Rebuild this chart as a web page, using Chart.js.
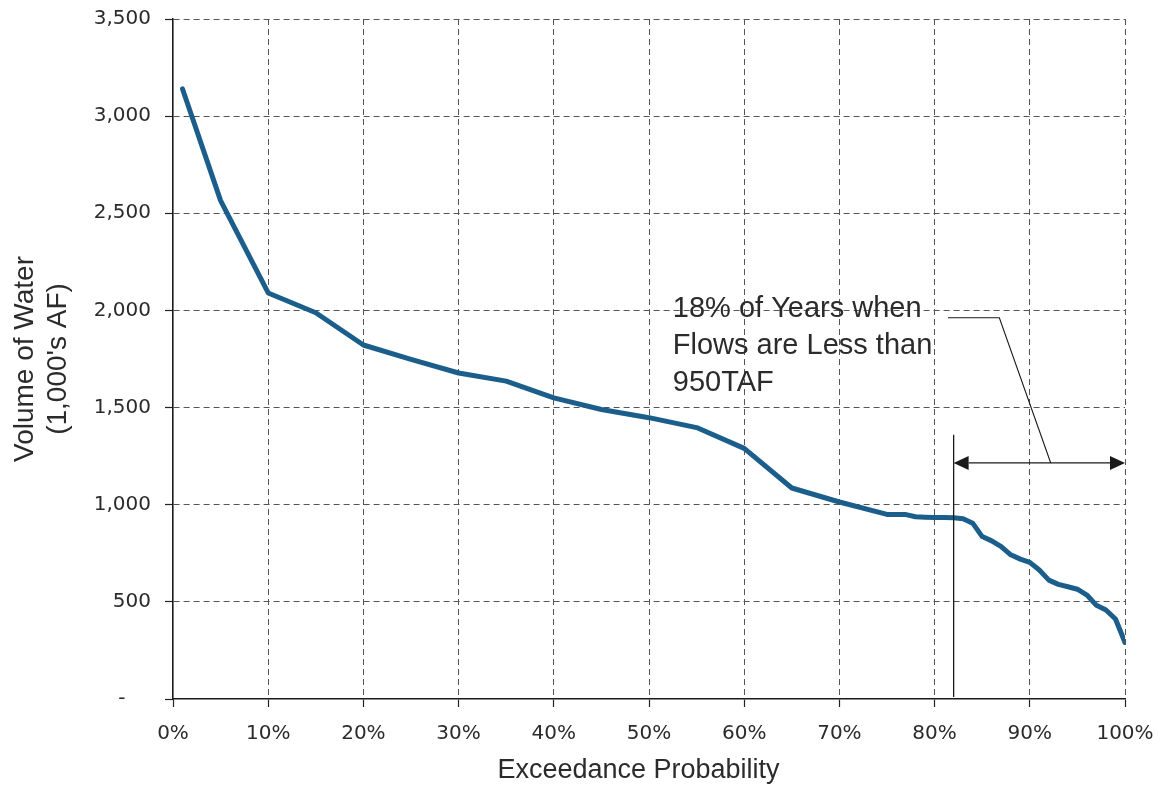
<!DOCTYPE html>
<html>
<head>
<meta charset="utf-8">
<script src="https://cdn.jsdelivr.net/npm/chart.js@4"></script>
<style>
  html, body { margin: 0; padding: 0; background: #fff; }
  #wrap { width: 1159px; height: 787px; position: relative; }
</style>
</head>
<body>
<div id="wrap"><canvas id="c" width="1159" height="787"></canvas></div>
<script>
// Exceedance probability (%) and volume (1,000's AF)
const exceedancePct = [1, 5, 10, 15, 20, 25, 30, 35, 40, 45, 50, 55, 60, 65, 70, 75, 76, 77, 78, 79, 80, 81, 82, 83, 84, 85, 86, 87, 88, 89, 90, 91, 92, 93, 94, 95, 96, 97, 98, 99, 100];
const volumeTAF = [3140, 2565, 2090, 1988, 1822, 1748, 1678, 1636, 1550, 1490, 1448, 1397, 1290, 1086, 1014, 950, 950, 949, 938, 936, 934, 934, 933, 928, 905, 836, 814, 784, 742, 720, 703, 664, 612, 590, 578, 565, 535, 482, 458, 412, 291];

const xTicks = [0, 10, 20, 30, 40, 50, 60, 70, 80, 90, 100];
const yTicks = [0, 500, 1000, 1500, 2000, 2500, 3000, 3500];

const xTitle = 'Exceedance Probability';
const annotationLines = ["18% of Years when", "Flows are Less than", "950TAF"];
const thresholdPct = 82;   // start of the 18% lowest-flow band
const bandEndPct = 100;
const arrowLevel = 1215;   // y value of the double arrow
const markerTop = 1360;    // top of vertical marker line
const leaderPts = [[92.2, 1215], [86.8, 1962], [81.4, 1962]];
const textAnchor = [52.5, 2008];
const textLineStepVal = 192; // value-units between annotation lines

const annotationPlugin = {
  id: 'annot',
  afterDatasetsDraw(chart) {
    const {ctx, scales: {x, y}} = chart;
    ctx.save();
    ctx.strokeStyle = '#1a1a1a';
    ctx.fillStyle = '#1a1a1a';
    ctx.lineWidth = 1.3;
    const vx = x.getPixelForValue(thresholdPct);
    ctx.beginPath();
    ctx.moveTo(vx, y.getPixelForValue(markerTop));
    ctx.lineTo(vx, y.getPixelForValue(0) - 2);
    ctx.stroke();
    const ay = y.getPixelForValue(arrowLevel);
    const ax1 = vx, ax2 = x.getPixelForValue(bandEndPct);
    const ah = 15, aw = 7;
    ctx.beginPath();
    ctx.moveTo(ax1 + ah, ay);
    ctx.lineTo(ax2 - ah, ay);
    ctx.stroke();
    ctx.beginPath();
    ctx.moveTo(ax1, ay); ctx.lineTo(ax1 + ah, ay - aw); ctx.lineTo(ax1 + ah, ay + aw); ctx.closePath(); ctx.fill();
    ctx.beginPath();
    ctx.moveTo(ax2, ay); ctx.lineTo(ax2 - ah, ay - aw); ctx.lineTo(ax2 - ah, ay + aw); ctx.closePath(); ctx.fill();
    ctx.lineWidth = 1.1;
    ctx.beginPath();
    leaderPts.forEach((p, i) => {
      const px = x.getPixelForValue(p[0]), py = y.getPixelForValue(p[1]);
      if (i === 0) ctx.moveTo(px, py); else ctx.lineTo(px, py);
    });
    ctx.stroke();
    ctx.fillStyle = '#2b2b2b';
    ctx.font = '29px "Liberation Sans", Arial, sans-serif';
    ctx.textAlign = 'left';
    ctx.textBaseline = 'middle';
    annotationLines.forEach((t, i) => {
      ctx.fillText(t, x.getPixelForValue(textAnchor[0]), y.getPixelForValue(textAnchor[1] - i * textLineStepVal));
    });
    // x-axis title (slightly left of the plot centre, as in the source)
    ctx.font = '27px "Liberation Sans", Arial, sans-serif';
    ctx.textAlign = 'center';
    ctx.textBaseline = 'alphabetic';
    ctx.fillText(xTitle, x.left + x.width * 0.489, x.bottom - 9);
    ctx.restore();
  }
};

const noZeroGrid = (c) => (c.tick && c.tick.value === 0) ? 'rgba(0,0,0,0)' : '#555';

const ctx = document.getElementById('c').getContext('2d');
new Chart(ctx, {
  type: 'line',
  data: {
    datasets: [{
      data: exceedancePct.map((p, i) => ({x: p, y: volumeTAF[i]})),
      borderColor: '#1b5e8b',
      borderWidth: 5,
      pointRadius: 0,
      tension: 0,
      fill: false,
      borderJoinStyle: 'round',
      borderCapStyle: 'round'
    }]
  },
  options: {
    responsive: false,
    animation: false,
    devicePixelRatio: 1,
    layout: { padding: { left: 0, right: 34, top: 19, bottom: 0 } },
    plugins: { legend: { display: false }, tooltip: { enabled: false } },
    scales: {
      x: {
        type: 'linear',
        min: 0, max: 100,
        afterBuildTicks: (s) => { s.ticks = xTicks.map(v => ({value: v})); },
        afterFit: (s) => { s.height = 88; s.paddingLeft = 0; s.paddingRight = 0; },
        ticks: {
          callback: (v) => v + '%',
          color: '#2b2b2b',
          font: { family: '"DejaVu Sans", sans-serif', size: 20 },
          padding: 15,
          maxRotation: 0,
          autoSkip: false
        },
        grid: { color: noZeroGrid, lineWidth: 1, tickLength: 8, tickColor: '#222', tickWidth: 1.2 },
        border: { display: true, color: '#1a1a1a', width: 1.6, dash: [6, 4] },
        title: { display: false }
      },
      y: {
        type: 'linear',
        min: 0, max: 3500,
        afterBuildTicks: (s) => { s.ticks = yTicks.map(v => ({value: v})); },
        afterFit: (s) => { s.width = 173; s.paddingTop = 0; s.paddingBottom = 0; },
        ticks: {
          callback: (v) => v === 0 ? '-\u2007\u2007' : v.toLocaleString('en-US'),
          color: '#2b2b2b',
          font: { family: '"DejaVu Sans", sans-serif', size: 20 },
          padding: 14
        },
        grid: { color: noZeroGrid, lineWidth: 1, tickLength: 8, tickColor: '#222', tickWidth: 1.2 },
        border: { display: true, color: '#1a1a1a', width: 1.6, dash: [6, 4] },
        title: {
          display: true,
          text: ['Volume of Water', "(1,000's AF)"],
          color: '#2b2b2b',
          font: { family: '"Liberation Sans", Arial, sans-serif', size: 28 },
          padding: { top: 8, bottom: 0 }
        }
      }
    }
  },
  plugins: [annotationPlugin]
});
</script>
</body>
</html>
